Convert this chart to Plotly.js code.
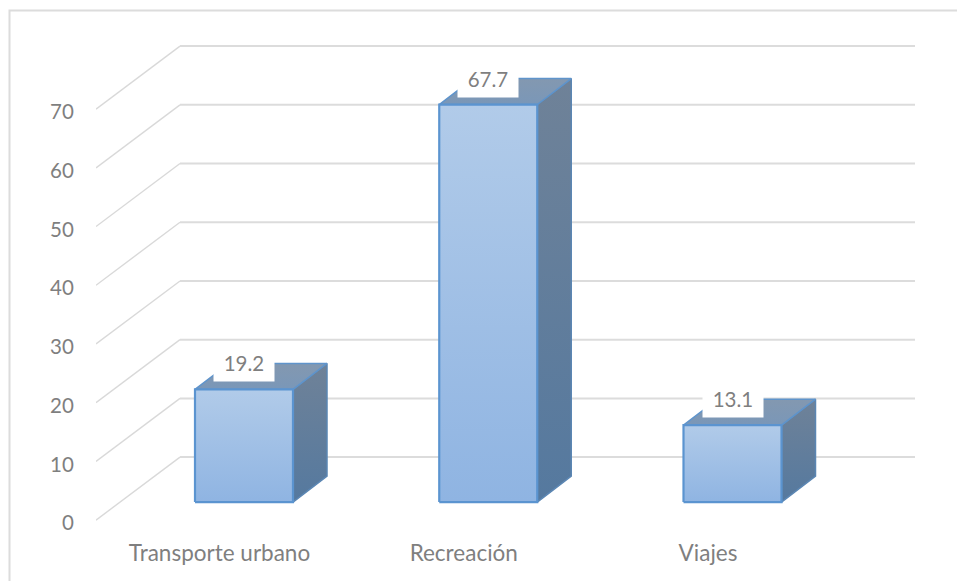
<!DOCTYPE html>
<html><head><meta charset="utf-8">
<script src="https://cdn.plot.ly/plotly-3.0.1.min.js"></script>
<style>html,body{margin:0;padding:0;background:#fff}#c{width:957px;height:581px}</style>
</head><body><div id="c"></div>
<script>
const categories = ["Transporte urbano", "Recreación", "Viajes"];
const values = [19.2, 67.7, 13.1];
const axisTicks = [0, 10, 20, 30, 40, 50, 60, 70];

const W = 957, H = 581;
const pxX = 244.25, pxY = 5.87;
const L = 96, R = 42, T = 20, B = 55.13;
const xMin = -(244 - L) / pxX;
const xMax = xMin + (W - L - R) / pxX;
const yMin = -1;
const yMax = yMin + (H - T - B) / pxY;
const FLOOR = 18 / pxY;
const barW = 98 / pxX, barDX = 34 / pxX, barDY = 26 / pxY;
const wallDX = 84 / pxX, wallDY = 63 / pxY;
const labelShift = -24.5 / pxX;
const tickDrop = 3 / pxY;

const traces = [];
const diag = { x: [], y: [] }, back = { x: [], y: [] };
axisTicks.forEach(v => {
  diag.x.push(xMin, xMin + wallDX, null);
  diag.y.push(v, v + wallDY, null);
  back.x.push(xMin + wallDX, xMax, null);
  back.y.push(v + wallDY, v + wallDY, null);
});
traces.push({ type: 'scatter', mode: 'lines', x: diag.x, y: diag.y, hoverinfo: 'skip',
  line: { color: '#d9d9d9', width: 1.4 }, showlegend: false });
traces.push({ type: 'scatter', mode: 'lines', x: back.x, y: back.y, hoverinfo: 'skip',
  line: { color: '#dcdcdc', width: 2 }, showlegend: false });

traces.push({ type: 'bar', x: [0, 1, 2], y: values, base: values.map(() => FLOOR), width: barW,
  marker: { color: '#a0bfe6', line: { width: 0 } }, xaxis: 'x2', yaxis: 'y2', showlegend: false,
  hovertemplate: '%{y}<extra></extra>' });

function face(xs, ys, stops, lineColor, lineW) {
  traces.push({ type: 'scatter', mode: 'lines', x: xs, y: ys, fill: 'toself',
    fillgradient: { type: 'vertical', colorscale: stops },
    line: { color: lineColor, width: lineW }, hoverinfo: 'skip', xaxis: 'x2', yaxis: 'y2', showlegend: false });
}
values.forEach((v, i) => {
  const x0 = i - barW / 2, x1 = i + barW / 2, y0 = FLOOR, y1 = FLOOR + v;
  face([x1, x1 + barDX, x1 + barDX, x1, x1], [y0, y0 + barDY, y1 + barDY, y1, y0],
    [[0, '#55799f'], [1, '#6f8298']], '#5b86b3', 1.5);
  face([x0, x0 + barDX, x1 + barDX, x1, x0], [y1, y1 + barDY, y1 + barDY, y1, y1],
    [[0, '#7a97b8'], [1, '#8398b0']], '#5f94cb', 1.5);
  face([x0, x1, x1, x0, x0], [y0, y0, y1, y1, y0],
    [[0, '#8fb4e2'], [1, '#b1cbe9']], '#5b94d0', 2.2);
});

const family = 'Lato, "Open Sans", sans-serif';
const color = '#7f7f7f';
const numFont = { family, size: 20.5, color };
const catFont = { family, size: 22.5, color };
const annotations = values.map((v, i) => ({
  x: i, y: FLOOR + v, xref: 'x', yref: 'y', xanchor: 'center', yanchor: 'bottom', yshift: 7,
  text: v.toFixed(1), showarrow: false, width: 60, height: 36, bgcolor: '#ffffff', borderpad: 0,
  align: 'center', valign: 'middle', font: numFont
}));

const plotW = W - L - R, plotH = H - T - B;
const bx = (9.5 - L) / plotW, by0 = (H - B - H) / plotH, by1 = (H - B - 10.5) / plotH;
const layout = {
  width: W, height: H, margin: { l: L, r: R, t: T, b: B, pad: 0 },
  paper_bgcolor: '#fff', plot_bgcolor: 'rgba(0,0,0,0)', showlegend: false, bargap: 0,
  font: numFont,
  xaxis: { range: [xMin, xMax], tickmode: 'array', tickvals: categories.map((_, i) => i + labelShift), ticktext: categories,
    showgrid: false, zeroline: false, showline: false, ticks: 'outside', ticklen: 7, tickcolor: 'rgba(0,0,0,0)', tickfont: catFont, automargin: false },
  yaxis: { range: [yMin, yMax], tickmode: 'array', tickvals: axisTicks.map(v => v - tickDrop), ticktext: axisTicks.map(String),
    showgrid: false, zeroline: false, showline: false, ticks: 'outside', ticklen: 17, tickcolor: 'rgba(0,0,0,0)', tickfont: numFont, automargin: false },
  xaxis2: { range: [xMin, xMax], overlaying: 'x', visible: false },
  yaxis2: { range: [yMin, yMax], overlaying: 'y', visible: false },
  annotations,
  shapes: [{ type: 'path', xref: 'paper', yref: 'paper', layer: 'below',
    path: 'M ' + bx + ' ' + by0 + ' L ' + bx + ' ' + by1 + ' L ' + (W - L) / plotW + ' ' + by1,
    line: { color: '#dcdcdc', width: 2 } }]
};
Plotly.newPlot('c', traces, layout, { displayModeBar: false, responsive: false });
</script></body></html>
